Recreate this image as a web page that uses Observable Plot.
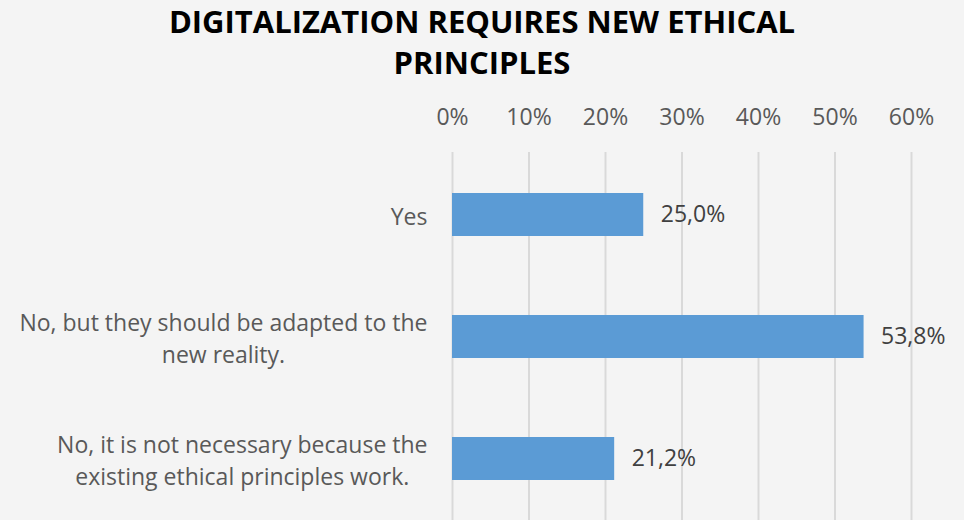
<!DOCTYPE html>
<html>
<head>
<meta charset="utf-8">
<script src="https://cdn.jsdelivr.net/npm/d3@7"></script>
<script src="https://cdn.jsdelivr.net/npm/@observablehq/plot@0.6"></script>
<style>
  html, body { margin: 0; padding: 0; background: #f4f4f4; }
  #title {
    width: 964px; height: 88px; box-sizing: border-box;
    font-family: "Open Sans", sans-serif; font-weight: 700;
    font-size: 31px; text-align: center; color: #000;
  }
  #title .l1 { line-height: 32px; height: 32px; padding-top: 5px; }
  #title .l2 { line-height: 32px; height: 32px; margin-top: 8.5px; }
  #chart svg { display: block; }
</style>
</head>
<body>
<div id="title"><div class="l1">DIGITALIZATION REQUIRES NEW ETHICAL</div><div class="l2">PRINCIPLES</div></div>
<div id="chart"></div>
<script>
const categories = [
  "Yes",
  "No, but they should be adapted to the new reality.",
  "No, it is not necessary because the existing ethical principles work."
];
const categoryLines = [
  "Yes",
  "No, but they should be adapted to the\nnew reality.",
  "No, it is not necessary because the\nexisting ethical principles work."
];
const values = [0.25, 0.538, 0.212];
const valueLabels = ["25,0%", "53,8%", "21,2%"];
const xTicks = [0, 0.1, 0.2, 0.3, 0.4, 0.5, 0.6];
const xTickLabels = ["0%", "10%", "20%", "30%", "40%", "50%", "60%"];

const data = categories.map((c, i) => ({
  category: c, label: categoryLines[i], value: values[i], valueLabel: valueLabels[i]
}));

const chart = Plot.plot({
  width: 964,
  height: 432,
  marginTop: 64,
  marginBottom: 0,
  marginLeft: 452,
  marginRight: 53,
  style: { background: "transparent", fontFamily: "'Open Sans', sans-serif" },
  x: { domain: [0, 0.6], axis: null },
  y: { domain: categories, axis: null, paddingInner: 0.65, paddingOuter: 0.325 },
  marks: [
    Plot.gridX(xTicks, { stroke: "#d9d9d9", strokeOpacity: 1, strokeWidth: 2 }),
    Plot.axisX(xTicks, {
      anchor: "top", tickSize: 0, tickPadding: 28, label: null,
      tickFormat: d => xTickLabels[xTicks.indexOf(d)],
      fontSize: 23, fill: "#595959"
    }),
    Plot.barX(data, { x: "value", y: "category", fill: "#5b9bd5" }),
    Plot.text(data, {
      x: "value", y: "category", text: "valueLabel",
      textAnchor: "start", dx: 17, fill: "#404040", fontSize: 23
    }),
    Plot.text(data, {
      y: "category", text: "label", frameAnchor: "left",
      textAnchor: "end", dx: -25, fill: "#595959", fontSize: 23, lineHeight: 1.38,
      className: "cat-labels"
    })
  ]
});
document.getElementById("chart").appendChild(chart);

// center multi-line category labels relative to each other (block stays right-aligned)
chart.querySelectorAll(".cat-labels text").forEach(t => {
  const w = t.getBBox().width;
  const prev = t.getAttribute("transform") || "";
  t.setAttribute("text-anchor", "middle");
  t.setAttribute("transform", prev + ` translate(${-w / 2},0)`);
});
</script>
</body>
</html>
